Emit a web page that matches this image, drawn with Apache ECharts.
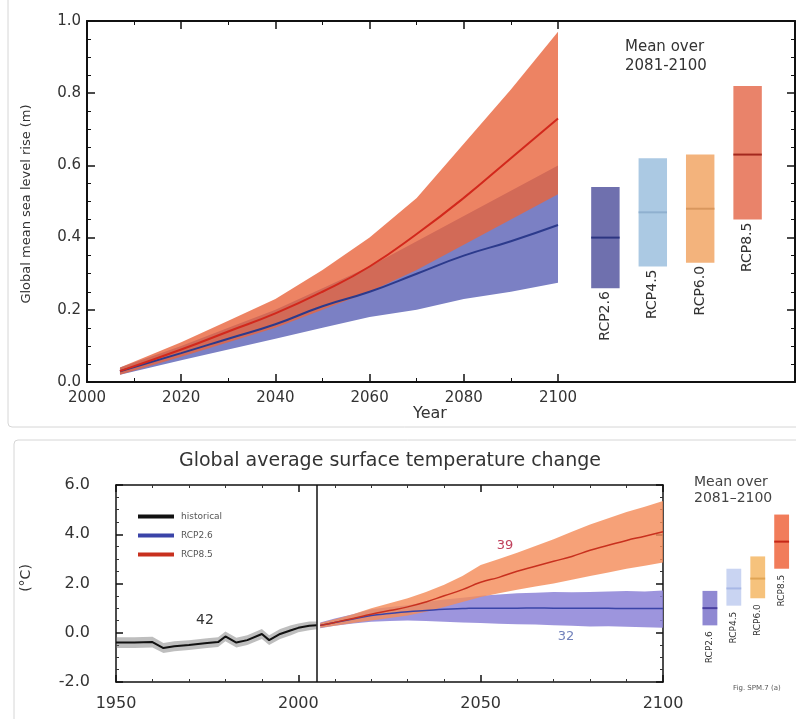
<!DOCTYPE html>
<html><head><meta charset="utf-8">
<script src="https://cdn.jsdelivr.net/npm/echarts@6/dist/echarts.min.js"></script>
<style>html,body{margin:0;padding:0;background:#fff}#c{width:796px;height:719px}</style>
</head><body><div id="c"></div>
<script>
// ---------- Top: global mean sea level rise (m) ----------
const slYears  = [2007, 2020, 2030, 2040, 2050, 2060, 2070, 2080, 2090, 2100];
const sl85Mean = [0.03, 0.09, 0.14, 0.19, 0.25, 0.32, 0.41, 0.51, 0.62, 0.73];
const sl85Low  = [0.02, 0.07, 0.11, 0.15, 0.20, 0.25, 0.31, 0.38, 0.45, 0.52];
const sl85High = [0.04, 0.11, 0.17, 0.23, 0.31, 0.40, 0.51, 0.66, 0.81, 0.97];
const sl26Mean = [0.03, 0.08, 0.12, 0.16, 0.21, 0.25, 0.30, 0.35, 0.39, 0.435];
const sl26Low  = [0.02, 0.06, 0.09, 0.12, 0.15, 0.18, 0.20, 0.23, 0.25, 0.275];
const sl26High = [0.04, 0.10, 0.15, 0.20, 0.26, 0.32, 0.39, 0.46, 0.53, 0.60];
const scenarios = ['RCP2.6', 'RCP4.5', 'RCP6.0', 'RCP8.5'];
const slBarMean = [0.40, 0.47, 0.48, 0.63];
const slBarLow  = [0.26, 0.32, 0.33, 0.45];
const slBarHigh = [0.54, 0.62, 0.63, 0.82];
const slXTickLabels = [2000, 2020, 2040, 2060, 2080, 2100];

// ---------- Bottom: global average surface temperature change (°C) ----------
const histYears = [1950, 1955, 1960, 1963, 1966, 1970, 1975, 1978, 1980, 1983, 1986, 1990, 1992, 1995, 1998, 2000, 2003, 2005];
const histMean  = [-0.40, -0.40, -0.38, -0.62, -0.55, -0.50, -0.42, -0.38, -0.15, -0.40, -0.30, -0.05, -0.30, -0.05, 0.10, 0.20, 0.28, 0.30];
const histLow   = [-0.62, -0.62, -0.60, -0.82, -0.75, -0.70, -0.62, -0.58, -0.35, -0.60, -0.50, -0.25, -0.50, -0.25, -0.10, 0.02, 0.10, 0.14];
const histHigh  = [-0.18, -0.18, -0.16, -0.42, -0.35, -0.30, -0.22, -0.18, 0.05, -0.20, -0.10, 0.15, -0.10, 0.15, 0.30, 0.38, 0.46, 0.46];
const projYears = [2006, 2010, 2015, 2020, 2025, 2030, 2035, 2040, 2045, 2050, 2055, 2060, 2065, 2070, 2075, 2080, 2085, 2090, 2095, 2100];
const t85Mean = [0.30, 0.42, 0.58, 0.75, 0.90, 1.05, 1.25, 1.50, 1.75, 2.05, 2.25, 2.50, 2.70, 2.90, 3.10, 3.35, 3.55, 3.75, 3.92, 4.10];
const t85Low  = [0.20, 0.28, 0.40, 0.50, 0.60, 0.70, 0.85, 1.05, 1.25, 1.45, 1.60, 1.75, 1.88, 2.00, 2.15, 2.30, 2.45, 2.60, 2.72, 2.85];
const t85High = [0.40, 0.55, 0.75, 1.00, 1.20, 1.40, 1.65, 1.95, 2.30, 2.75, 3.00, 3.25, 3.52, 3.80, 4.10, 4.40, 4.65, 4.90, 5.12, 5.35];
const t26Mean = [0.30, 0.42, 0.56, 0.70, 0.78, 0.85, 0.90, 0.95, 0.98, 1.00, 1.00, 1.00, 1.01, 1.00, 1.00, 1.00, 0.99, 0.98, 0.98, 0.98];
const t26Low  = [0.18, 0.28, 0.38, 0.45, 0.48, 0.50, 0.48, 0.45, 0.42, 0.40, 0.37, 0.35, 0.33, 0.30, 0.28, 0.25, 0.26, 0.24, 0.22, 0.20];
const t26High = [0.42, 0.58, 0.75, 0.95, 1.05, 1.12, 1.25, 1.35, 1.42, 1.50, 1.55, 1.60, 1.62, 1.65, 1.64, 1.65, 1.68, 1.70, 1.68, 1.72];
const tBarMean = [1.0, 1.8, 2.2, 3.7];
const tBarLow  = [0.3, 1.1, 1.4, 2.6];
const tBarHigh = [1.7, 2.6, 3.1, 4.8];
const tXTickLabels = [1950, 2000, 2050, 2100];

const FONT = 'DejaVu Sans';
const slBarColors = ['#6f70ae', '#abc9e3', '#f3b37c', '#e9836a'];
const slBarMeanColors = ['#2c3580', '#8fb0cf', '#d9975e', '#a3281e'];
const tBarColors = ['#8f88d2', '#c9d4f2', '#f6c27c', '#f17c5a'];
const tBarMeanColors = ['#4a40a0', '#a8b8e6', '#e0a454', '#c62818'];

function band(xs, lo, hi, fill, xi, yi, z) {
  return {
    type: 'custom', xAxisIndex: xi, yAxisIndex: yi, z: z, silent: true,
    data: xs.map((x, i) => [x, lo[i], hi[i]]),
    encode: { x: 0, y: [1, 2] },
    renderItem(params, api) {
      if (params.dataIndex !== 0) return null;
      const pts = [];
      for (let i = 0; i < xs.length; i++) pts.push(api.coord([xs[i], lo[i]]));
      for (let i = xs.length - 1; i >= 0; i--) pts.push(api.coord([xs[i], hi[i]]));
      return { type: 'polygon', shape: { points: pts }, style: { fill: fill } };
    }
  };
}

function bars(mean, low, high, colors, meanColors, xi, yi, widthUnits, fontSize, labelGap) {
  return {
    type: 'custom', xAxisIndex: xi, yAxisIndex: yi, z: 5, silent: true,
    data: mean.map((m, i) => [i + 1, low[i], high[i], m]),
    encode: { x: 0, y: [1, 2] },
    renderItem(params, api) {
      const i = params.dataIndex;
      const x = api.value(0);
      const top = api.coord([x, api.value(2)]);
      const bot = api.coord([x, api.value(1)]);
      const mid = api.coord([x, api.value(3)]);
      const w = api.size([widthUnits, 0])[0];
      return {
        type: 'group', children: [
          { type: 'rect', shape: { x: top[0] - w / 2, y: top[1], width: w, height: bot[1] - top[1] }, style: { fill: colors[i] } },
          { type: 'line', shape: { x1: top[0] - w / 2, y1: mid[1], x2: top[0] + w / 2, y2: mid[1] }, style: { stroke: meanColors[i], lineWidth: 2 } },
          { type: 'text', x: top[0], y: bot[1] + labelGap, rotation: Math.PI / 2,
            style: { text: scenarios[i], align: 'right', verticalAlign: 'middle', fontFamily: FONT, fontSize: fontSize, fill: '#333' } }
        ]
      };
    }
  };
}

const tickStyle = { inside: true, length: 8, lineStyle: { color: '#111', width: 1.5 } };
const minorStyle = { show: true, length: 4, lineStyle: { color: '#111', width: 1 } };
const axLine = { show: true, onZero: false, lineStyle: { color: '#111', width: 2 } };

const option = {
  animation: false,
  backgroundColor: '#fff',
  grid: [
    { left: 87, top: 21, width: 471, height: 361 },
    { left: 558, top: 21, width: 237, height: 361 },
    { left: 116, top: 485, width: 547, height: 197 },
    { left: 686, top: 485, width: 110, height: 197 }
  ],
  xAxis: [
    { gridIndex: 0, type: 'value', position: 'bottom', min: 2000, max: 2100, interval: 20,
      axisLine: axLine, axisTick: tickStyle, minorTick: Object.assign({ splitNumber: 2 }, minorStyle), splitLine: { show: false },
      axisLabel: { margin: 9, fontFamily: FONT, fontSize: 15, color: '#333',
        formatter: v => slXTickLabels.indexOf(v) >= 0 ? String(v) : '' } },
    { gridIndex: 0, type: 'value', position: 'top', min: 2000, max: 2100, interval: 20,
      axisLine: axLine, axisTick: tickStyle, minorTick: Object.assign({ splitNumber: 2 }, minorStyle), splitLine: { show: false },
      axisLabel: { show: false } },
    { gridIndex: 1, type: 'value', position: 'bottom', min: 0, max: 5,
      axisLine: axLine, axisTick: { show: false }, axisLabel: { show: false }, splitLine: { show: false } },
    { gridIndex: 1, type: 'value', position: 'top', min: 0, max: 5,
      axisLine: axLine, axisTick: { show: false }, axisLabel: { show: false }, splitLine: { show: false } },
    { gridIndex: 2, type: 'value', position: 'bottom', min: 1950, max: 2100, interval: 50,
      axisLine: Object.assign({}, axLine, { lineStyle: { color: '#111', width: 1.5 } }),
      axisTick: { inside: true, length: 7, lineStyle: { color: '#111', width: 1.5 } },
      minorTick: { show: true, splitNumber: 5, length: 3, lineStyle: { color: '#333', width: 1 } }, splitLine: { show: false },
      axisLabel: { margin: 14, fontFamily: FONT, fontSize: 16, color: '#333',
        formatter: v => tXTickLabels.indexOf(v) >= 0 ? String(v) : '' } },
    { gridIndex: 2, type: 'value', position: 'top', min: 1950, max: 2100, interval: 50,
      axisLine: Object.assign({}, axLine, { lineStyle: { color: '#111', width: 1.5 } }),
      axisTick: { inside: true, length: 7, lineStyle: { color: '#111', width: 1.5 } },
      minorTick: { show: true, splitNumber: 5, length: 3, lineStyle: { color: '#333', width: 1 } }, splitLine: { show: false },
      axisLabel: { show: false } },
    { gridIndex: 3, type: 'value', min: 0, max: 4.6, show: false }
  ],
  yAxis: [
    { gridIndex: 0, type: 'value', position: 'left', min: 0, max: 1, interval: 0.2,
      axisLine: axLine, axisTick: tickStyle, minorTick: Object.assign({ splitNumber: 4 }, minorStyle), splitLine: { show: false },
      axisLabel: { margin: 6, fontFamily: FONT, fontSize: 15, color: '#333', formatter: v => v.toFixed(1) } },
    { gridIndex: 1, type: 'value', position: 'right', min: 0, max: 1, interval: 0.2,
      axisLine: axLine, axisTick: tickStyle, minorTick: Object.assign({ splitNumber: 4 }, minorStyle), splitLine: { show: false },
      axisLabel: { show: false } },
    { gridIndex: 2, type: 'value', position: 'left', min: -2, max: 6, interval: 2,
      axisLine: Object.assign({}, axLine, { lineStyle: { color: '#111', width: 1.5 } }),
      axisTick: { inside: true, length: 7, lineStyle: { color: '#111', width: 1.5 } },
      minorTick: { show: true, splitNumber: 4, length: 3, lineStyle: { color: '#333', width: 1 } }, splitLine: { show: false },
      axisLabel: { margin: 26, fontFamily: FONT, fontSize: 16, color: '#333', formatter: v => v.toFixed(1) } },
    { gridIndex: 2, type: 'value', position: 'right', min: -2, max: 6, interval: 2,
      axisLine: Object.assign({}, axLine, { lineStyle: { color: '#111', width: 1.5 } }),
      axisTick: { inside: true, length: 7, lineStyle: { color: '#111', width: 1.5 } },
      minorTick: { show: true, splitNumber: 4, length: 3, lineStyle: { color: '#333', width: 1 } }, splitLine: { show: false },
      axisLabel: { show: false } },
    { gridIndex: 3, type: 'value', min: -2, max: 6, show: false }
  ],
  legend: {
    left: 133, top: 507, orient: 'vertical', icon: 'rect', itemWidth: 36, itemHeight: 4, itemGap: 10,
    data: ['historical', 'RCP2.6', 'RCP8.5'],
    textStyle: { fontFamily: FONT, fontSize: 9, color: '#555', padding: [0, 0, 0, 2] }
  },
  graphic: [
    { type: 'rect', shape: { x: 8, y: -4, width: 800, height: 431, r: 4 }, style: { fill: 'none', stroke: '#d6d6d6', lineWidth: 1 }, z: -1 },
    { type: 'rect', shape: { x: 14, y: 440, width: 800, height: 290, r: 4 }, style: { fill: 'none', stroke: '#d6d6d6', lineWidth: 1 }, z: -1 },
    { type: 'text', x: 27, y: 204, rotation: Math.PI / 2,
      style: { text: 'Global mean sea level rise (m)', fontFamily: FONT, fontSize: 13, fill: '#333', align: 'center', verticalAlign: 'middle' } },
    { type: 'text', x: 430, y: 414, style: { text: 'Year', fontFamily: FONT, fontSize: 16, fill: '#333', align: 'center', verticalAlign: 'middle' } },
    { type: 'text', x: 625, y: 38, style: { text: 'Mean over\n2081-2100', fontFamily: FONT, fontSize: 15, lineHeight: 19, fill: '#333' } },
    { type: 'text', x: 390, y: 461, style: { text: 'Global average surface temperature change', fontFamily: FONT, fontSize: 19, fill: '#333', align: 'center', verticalAlign: 'middle' } },
    { type: 'text', x: 26, y: 578, rotation: Math.PI / 2,
      style: { text: '(°C)', fontFamily: FONT, fontSize: 14, fill: '#333', align: 'center', verticalAlign: 'middle' } },
    { type: 'text', x: 205, y: 620, style: { text: '42', fontFamily: FONT, fontSize: 14, fill: '#333', align: 'center', verticalAlign: 'middle' } },
    { type: 'text', x: 505, y: 546, style: { text: '39', fontFamily: FONT, fontSize: 13, fill: '#c0405c', align: 'center', verticalAlign: 'middle' } },
    { type: 'text', x: 566, y: 637, style: { text: '32', fontFamily: FONT, fontSize: 13, fill: '#7282bb', align: 'center', verticalAlign: 'middle' } },
    { type: 'text', x: 694, y: 474, style: { text: 'Mean over\n2081–2100', fontFamily: FONT, fontSize: 14, lineHeight: 16, fill: '#444' } },
    { type: 'text', x: 733, y: 685, style: { text: 'Fig. SPM.7 (a)', fontFamily: FONT, fontSize: 7, fill: '#555' } }
  ],
  series: [
    band(slYears, sl26Low, sl26High, '#7b80c4', 0, 0, 1),
    band(slYears, sl85Low, sl85High, 'rgba(232,100,60,0.8)', 0, 0, 2),
    { name: 'RCP2.6 sea level', type: 'line', xAxisIndex: 0, yAxisIndex: 0, z: 3, smooth: true, symbol: 'none', silent: true,
      data: slYears.map((y, i) => [y, sl26Mean[i]]), lineStyle: { color: '#2c3a8c', width: 2 } },
    { name: 'RCP8.5 sea level', type: 'line', xAxisIndex: 0, yAxisIndex: 0, z: 3, smooth: true, symbol: 'none', silent: true,
      data: slYears.map((y, i) => [y, sl85Mean[i]]), lineStyle: { color: '#d2281c', width: 2 } },
    bars(slBarMean, slBarLow, slBarHigh, slBarColors, slBarMeanColors, 2, 1, 0.6, 14, 3),

    band(histYears, histLow, histHigh, 'rgba(110,110,110,0.45)', 4, 2, 1),
    band(projYears, t26Low, t26High, 'rgba(140,130,215,0.85)', 4, 2, 1),
    band(projYears, t85Low, t85High, 'rgba(244,140,90,0.82)', 4, 2, 2),
    { name: 'historical', type: 'line', xAxisIndex: 4, yAxisIndex: 2, z: 3, symbol: 'none', silent: true,
      itemStyle: { color: '#111' }, lineStyle: { color: '#111', width: 2 },
      data: histYears.map((y, i) => [y, histMean[i]]),
      markLine: { silent: true, symbol: 'none', label: { show: false }, lineStyle: { color: '#111', width: 1.5, type: 'solid' },
        data: [{ xAxis: 2005 }] } },
    { name: 'RCP2.6', type: 'line', xAxisIndex: 4, yAxisIndex: 2, z: 3, symbol: 'none', silent: true, smooth: true,
      itemStyle: { color: '#3a44a8' }, lineStyle: { color: '#3a44a8', width: 1.5 },
      data: projYears.map((y, i) => [y, t26Mean[i]]) },
    { name: 'RCP8.5', type: 'line', xAxisIndex: 4, yAxisIndex: 2, z: 3, symbol: 'none', silent: true, smooth: true,
      itemStyle: { color: '#c8301e' }, lineStyle: { color: '#c8301e', width: 1.5 },
      data: projYears.map((y, i) => [y, t85Mean[i]]) },
    bars(tBarMean, tBarLow, tBarHigh, tBarColors, tBarMeanColors, 6, 4, 0.62, 9, 6)
  ]
};

const chart = echarts.init(document.getElementById('c'), null, { renderer: 'canvas' });
chart.setOption(option);
</script>
</body></html>
